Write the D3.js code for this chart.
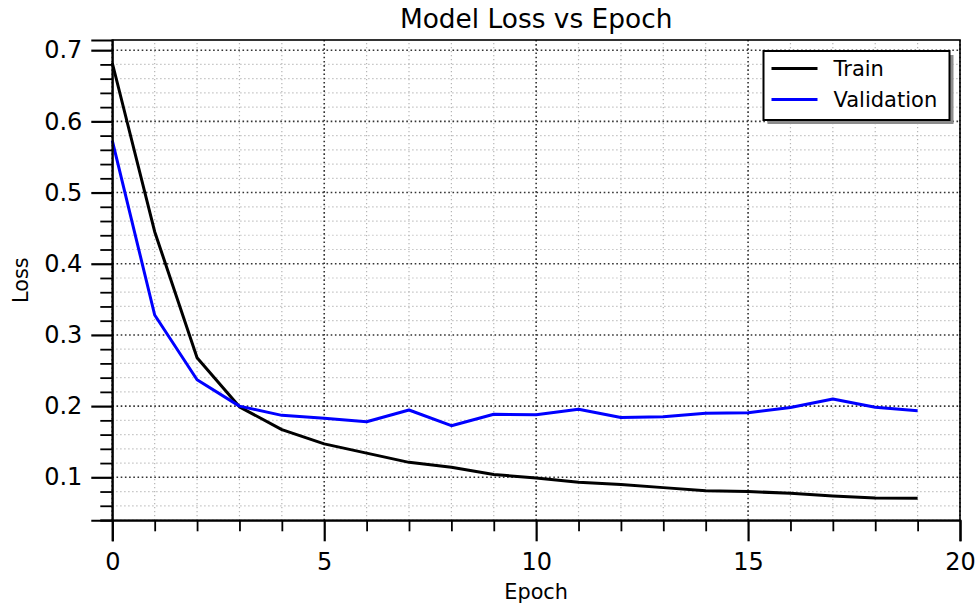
<!DOCTYPE html>
<html>
<head>
<meta charset="utf-8">
<script src="https://cdn.jsdelivr.net/npm/d3@7"></script>
<style>
  html, body { margin: 0; padding: 0; background: #fff; }
  svg { display: block; font-family: "DejaVu Sans", sans-serif; }
</style>
</head>
<body>
<svg id="chart" width="978" height="605"></svg>
<script>
// Training history: loss per epoch
const epochs = d3.range(0, 20);
const trainLoss = [0.682, 0.445, 0.268, 0.199, 0.167, 0.147, 0.134, 0.121, 0.114, 0.104,
                   0.099, 0.093, 0.090, 0.0855, 0.081, 0.080, 0.0775, 0.0737, 0.071, 0.0705];
const valLoss = [0.573, 0.328, 0.237, 0.200, 0.187, 0.183, 0.178, 0.1945, 0.1725, 0.1885,
                 0.188, 0.1955, 0.184, 0.185, 0.190, 0.1907, 0.198, 0.210, 0.1985, 0.1935];
const xTicks = [0, 5, 10, 15, 20];
const yTicks = [0.1, 0.2, 0.3, 0.4, 0.5, 0.6, 0.7];
const seriesNames = ["Train", "Validation"];
const seriesColors = ["#000000", "#0000ff"];

const svg = d3.select("#chart");
const margin = { left: 112.3, right: 18, top: 40, bottom: 84.7 };
const W = 978, H = 605;
const x = d3.scaleLinear().domain([0, 20]).range([margin.left, W - margin.right]);
const y = d3.scaleLinear().domain([0.0396, 0.7143]).range([H - margin.bottom, margin.top]);

const x0 = x.range()[0], x1 = x.range()[1];
const y0 = y.range()[0], y1 = y.range()[1];

// Minor grid
const minorX = d3.range(0, 21, 1).filter(v => v % 5 !== 0);
const minorY = d3.range(4, 72, 2).map(v => v / 100).filter(v => Math.round(v * 100) % 10 !== 0);
const grid = svg.append("g");
grid.selectAll("line.mx").data(minorX).join("line")
  .attr("x1", d => x(d)).attr("x2", d => x(d)).attr("y1", y0).attr("y2", y1)
  .attr("stroke", "#b5b5b5").attr("stroke-width", 1.2).attr("stroke-dasharray", "1.2,2.8");
grid.selectAll("line.my").data(minorY).join("line")
  .attr("y1", d => y(d)).attr("y2", d => y(d)).attr("x1", x0).attr("x2", x1)
  .attr("stroke", "#b5b5b5").attr("stroke-width", 1.2).attr("stroke-dasharray", "1.2,2.8");
// Major grid
grid.selectAll("line.Mx").data(xTicks).join("line")
  .attr("x1", d => x(d)).attr("x2", d => x(d)).attr("y1", y0).attr("y2", y1)
  .attr("stroke", "#333").attr("stroke-width", 1.6).attr("stroke-dasharray", "1.6,2.6");
grid.selectAll("line.My").data(yTicks).join("line")
  .attr("y1", d => y(d)).attr("y2", d => y(d)).attr("x1", x0).attr("x2", x1)
  .attr("stroke", "#333").attr("stroke-width", 1.6).attr("stroke-dasharray", "1.6,2.6");

// Lines
const line = d3.line().x((d, i) => x(epochs[i])).y(d => y(d));
[trainLoss, valLoss].forEach((s, k) => {
  svg.append("path").datum(s).attr("d", line)
    .attr("fill", "none").attr("stroke", seriesColors[k]).attr("stroke-width", 3)
    .attr("stroke-linejoin", "round").attr("stroke-linecap", "butt");
});

// Frame
svg.append("rect").attr("x", x0).attr("y", y1).attr("width", x1 - x0).attr("height", y0 - y1)
  .attr("fill", "none").attr("stroke", "#000").attr("stroke-width", 1.6);

// Axes
const xAxis = d3.axisBottom(x).tickValues(xTicks).tickSize(21).tickPadding(12).tickFormat(d3.format("d"));
const gx = svg.append("g").attr("transform", `translate(0,${y0})`).call(xAxis);
gx.select(".domain").attr("stroke-width", 2);
gx.selectAll(".tick line").attr("stroke-width", 2.2);
gx.selectAll("text").attr("font-size", 24).attr("fill", "#000").attr("font-family", "DejaVu Sans");
const xMinorAxis = d3.axisBottom(x).tickValues(minorX).tickSize(11).tickFormat("");
const gxm = svg.append("g").attr("transform", `translate(0,${y0})`).call(xMinorAxis);
gxm.select(".domain").remove();
gxm.selectAll(".tick line").attr("stroke-width", 1.8);

const yAxis = d3.axisLeft(y).tickValues(yTicks).tickSize(21).tickPadding(9).tickFormat(d3.format(".1f"));
const gy = svg.append("g").attr("transform", `translate(${x0},0)`).call(yAxis);
gy.select(".domain").attr("stroke-width", 2);
gy.selectAll(".tick line").attr("stroke-width", 2.2);
gy.selectAll("text").attr("font-size", 24).attr("fill", "#000").attr("font-family", "DejaVu Sans");
const yMinorAxis = d3.axisLeft(y).tickValues(minorY.concat([0.04])).tickSize(12).tickFormat("");
const gym = svg.append("g").attr("transform", `translate(${x0},0)`).call(yMinorAxis);
gym.select(".domain").remove();
gym.selectAll(".tick line").attr("stroke-width", 1.8);

// Titles
svg.append("text").attr("x", (x0 + x1) / 2).attr("y", 27.5).attr("text-anchor", "middle")
  .attr("font-size", 26.4).text("Model Loss vs Epoch");
svg.append("text").attr("x", (x0 + x1) / 2).attr("y", 599).attr("text-anchor", "middle")
  .attr("font-size", 20.8).text("Epoch");
svg.append("text").attr("transform", `translate(28,${(y0 + y1) / 2}) rotate(-90)`)
  .attr("text-anchor", "middle").attr("font-size", 20.8).text("Loss");

// Legend
const lg = svg.append("g").attr("transform", "translate(763.5,51)");
lg.append("rect").attr("x", 4).attr("y", 4).attr("width", 186).attr("height", 69).attr("fill", "#8c8c8c");
lg.append("rect").attr("x", 0).attr("y", 0).attr("width", 186).attr("height", 69)
  .attr("fill", "#fff").attr("stroke", "#000").attr("stroke-width", 2);
seriesNames.forEach((name, i) => {
  const yy = 17.5 + i * 31;
  lg.append("line").attr("x1", 8).attr("x2", 54).attr("y1", yy).attr("y2", yy)
    .attr("stroke", seriesColors[i]).attr("stroke-width", 3);
  lg.append("text").attr("x", 70).attr("y", yy + 7.5).attr("font-size", 21).text(name);
});
</script>
</body>
</html>
